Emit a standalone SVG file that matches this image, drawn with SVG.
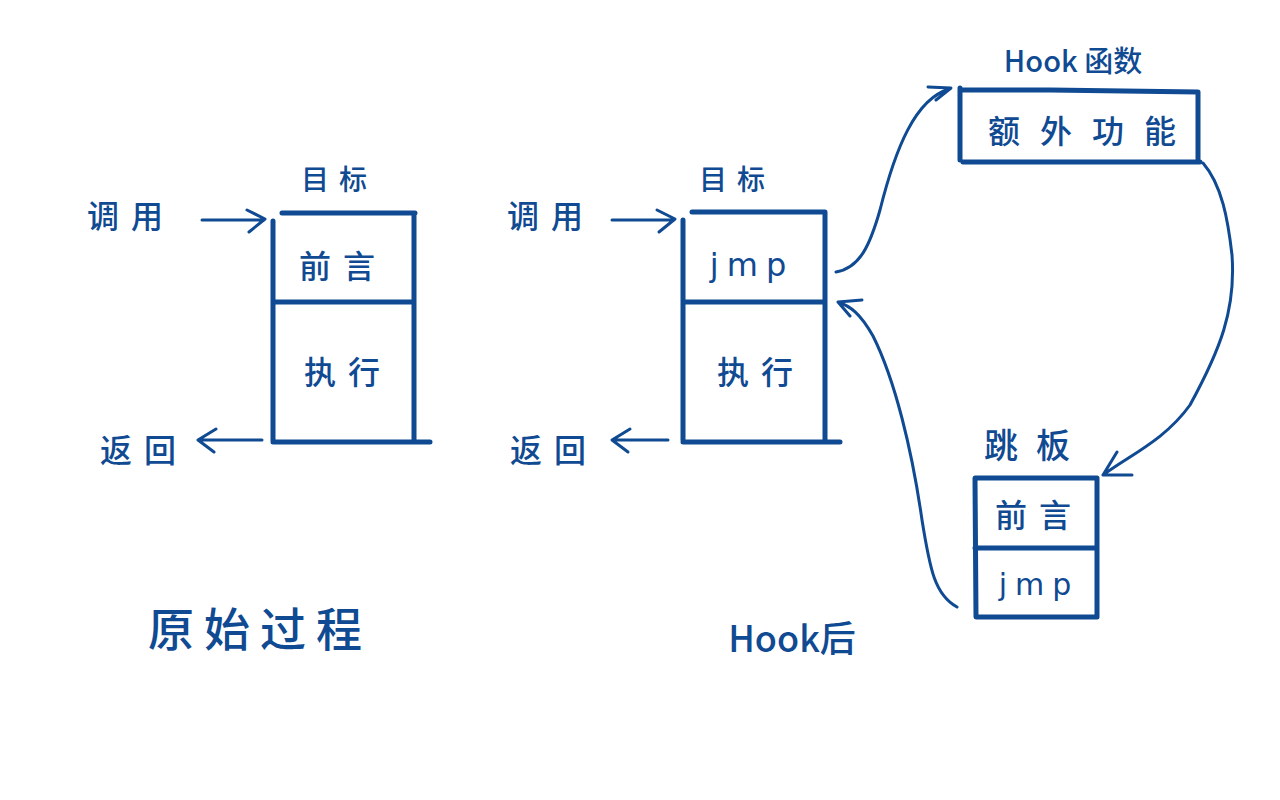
<svg xmlns="http://www.w3.org/2000/svg" width="1280" height="800" viewBox="0 0 1280 800">
<style>
.s{fill:none;stroke:#0f4a92;stroke-width:5;stroke-linecap:round;stroke-linejoin:round}
.c{fill:none;stroke:#0f4a92;stroke-width:3;stroke-linecap:round;stroke-linejoin:round}
text{font-family:"Noto Sans CJK SC","Noto Sans",sans-serif;fill:#0f4a92;text-anchor:middle;font-weight:500}
.m{font-size:32px;letter-spacing:12px}
.sm{font-size:28px;letter-spacing:10px}
.big{font-size:46px;letter-spacing:10px}
.j{font-family:"DejaVu Sans",sans-serif;letter-spacing:8px}
</style>
<rect width="1280" height="800" fill="#ffffff"/>
<g id="orig">
<g id="orig-target">
<text class="sm" x="339" y="190">目标</text>
<path class="s" d="M282 213H415M273 221V441M414 213V442M273 302H414M273 442H430"/>
<text class="m" x="343" y="278">前言</text>
<text class="m" x="348" y="384">执行</text>
</g>
<g id="orig-call"><text class="m" x="131" y="228">调用</text></g>
<g id="orig-ret"><text class="m" x="144" y="462">返回</text></g>
<g id="orig-title"><text class="big" x="260" y="646">原始过程</text></g>
</g>
<g id="hooked">
<g id="hook-target">
<text class="sm" x="737" y="190">目标</text>
<path class="s" d="M692 212H825M683 220V440M825 212V442M683 302H825M683 442H840"/>
<text class="m j" x="752" y="276">jmp</text>
<text class="m" x="761" y="384">执行</text>
</g>
<g id="hook-call"><text class="m" x="551" y="228">调用</text></g>
<g id="hook-ret"><text class="m" x="554" y="462">返回</text></g>
<g id="hook-title"><text x="792" y="652" style="font-size:36px">Hook后</text></g>
</g>
<g id="hookfn">
<text x="1073" y="72" style="font-size:29px">Hook 函数</text>
<path class="s" d="M960 88V160M963 90H1050L1198 92M1198 92V162M963 162H1200"/>
<text class="m" x="1092" y="143" style="letter-spacing:20px">额外功能</text>
</g>
<g id="tramp">
<text class="m" x="1036" y="458" style="font-size:34px;letter-spacing:18px">跳板</text>
<path class="s" d="M975 478H1097V617H976ZM975 548H1097"/>
<text class="m" x="1039" y="527">前言</text>
<text class="m j" x="1039" y="595" style="font-size:30px">jmp</text>
</g>
<g id="connectors">
<path class="c" d="M202 220H264M247 210L265 219L249 232"/>
<path class="c" d="M262 440H198M216 429L198 440L214 452"/>
<path class="c" d="M612 220H674M657 210L675 219L659 232"/>
<path class="c" d="M668 440H612M630 429L612 440L628 452"/>
<path class="c" d="M836 272C860 268 870 245 880 210C895 150 915 98 950 89M928 87L951 88L936 100"/>
<path class="c" d="M1203 163C1222 185 1228 220 1232 255C1236 310 1220 350 1190 405C1165 440 1130 455 1103 475M1117 452L1103 475L1132 475"/>
<path class="c" d="M957 607C935 595 930 570 922 520C912 450 895 380 873 336C860 313 850 306 838 302M862 300L838 302L850 316"/>
</g>
</svg>
